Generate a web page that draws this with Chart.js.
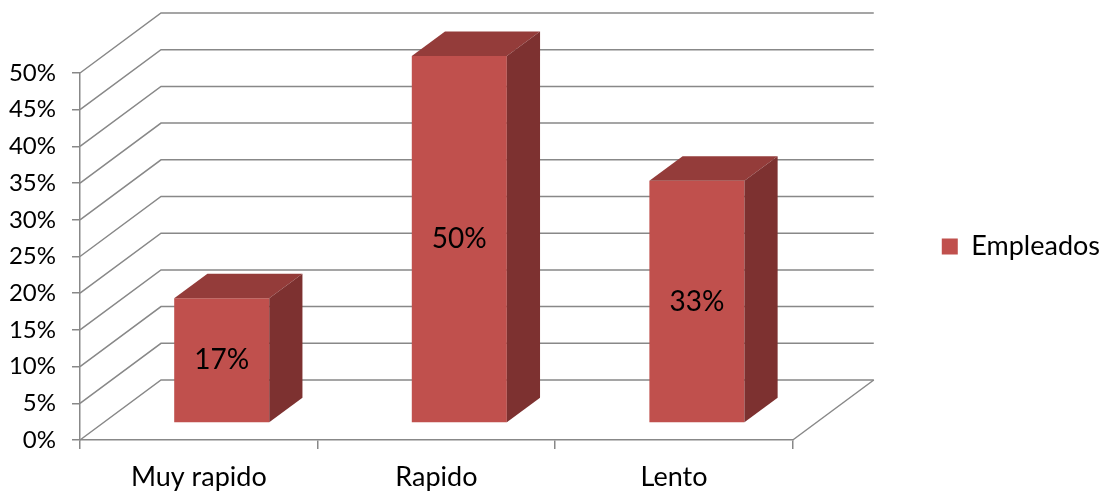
<!DOCTYPE html>
<html>
<head>
<meta charset="utf-8">
<script src="https://cdn.jsdelivr.net/npm/chart.js@4"></script>
<style>
  html, body { margin: 0; padding: 0; background: #fff; }
  #wrap { width: 1110px; height: 493px; }
</style>
</head>
<body>
<div id="wrap"><canvas id="speedChart"></canvas></div>
<script>
// Respuestas por categoria
const categories = ['Muy rapido', 'Rapido', 'Lento'];
const empleados = [17, 50, 33];
const seriesName = 'Empleados';
const yMin = 0;
const yMax = 50;
const yStep = 5;

const gridColor = '#888888';
const faceColor = '#c0504d';
const topColor = '#943c3a';
const sideColor = '#7d3130';

// depth of the back wall and where the bars sit inside it
const wall = { dx: 81, dy: -60 };
const barFront = 0.283;
const barDepth = 0.41;

const tickFont = { family: 'Lato', size: 24 };
const textFont = { family: 'Lato', size: 27 };
const valueFont = { family: 'Lato', size: 28 };

const depthPlugin = {
    id: 'depth',
    beforeDatasetsDraw(chart) {
        const { ctx, chartArea } = chart;
        const y = chart.scales.y;
        ctx.save();
        ctx.strokeStyle = gridColor;
        ctx.lineWidth = 1.5;

        // side wall diagonals + back wall lines
        for (let v = yMin; v <= yMax; v += yStep) {
            const py = y.getPixelForValue(v);
            ctx.beginPath();
            ctx.moveTo(chartArea.left, py);
            ctx.lineTo(chartArea.left + wall.dx, py + wall.dy);
            ctx.lineTo(chartArea.right + wall.dx, py + wall.dy);
            ctx.stroke();
        }

        // right edge of the floor
        const base = y.getPixelForValue(yMin);
        ctx.beginPath();
        ctx.moveTo(chartArea.right + wall.dx, base + wall.dy);
        ctx.lineTo(chartArea.right, base);
        ctx.stroke();
        ctx.restore();

        // bars are drawn a bit into the box
        ctx.save();
        ctx.translate(wall.dx * barFront, wall.dy * barFront);
    },
    afterDatasetsDraw(chart) {
        const { ctx } = chart;
        const ddx = wall.dx * barDepth;
        const ddy = wall.dy * barDepth;
        const meta = chart.getDatasetMeta(0);

        meta.data.forEach((bar, i) => {
            const { x, y, base, width } = bar.getProps(['x', 'y', 'base', 'width'], true);
            const x0 = x - width / 2;
            const x1 = x + width / 2;

            // top face
            ctx.fillStyle = topColor;
            ctx.beginPath();
            ctx.moveTo(x0, y);
            ctx.lineTo(x0 + ddx, y + ddy);
            ctx.lineTo(x1 + ddx, y + ddy);
            ctx.lineTo(x1, y);
            ctx.closePath();
            ctx.fill();

            // side face
            ctx.fillStyle = sideColor;
            ctx.beginPath();
            ctx.moveTo(x1, y);
            ctx.lineTo(x1 + ddx, y + ddy);
            ctx.lineTo(x1 + ddx, base + ddy);
            ctx.lineTo(x1, base);
            ctx.closePath();
            ctx.fill();

            // value label
            ctx.fillStyle = '#000';
            ctx.font = `${valueFont.size}px ${valueFont.family}`;
            ctx.textAlign = 'center';
            ctx.textBaseline = 'middle';
            ctx.fillText(empleados[i] + '%', x, (y + base) / 2);
        });

        ctx.restore();
    }
};

// empty axes that only reserve space around the plot
const spacer = (axis, position, size) => ({
    type: 'category',
    axis: axis,
    position: position,
    grid: { display: false },
    ticks: { display: false },
    border: { display: false },
    afterFit(scale) {
        if (axis === 'x') scale.height = size;
        else scale.width = size;
    }
});

new Chart(document.getElementById('speedChart'), {
    type: 'bar',
    data: {
        labels: categories,
        datasets: [{
            label: seriesName,
            data: empleados,
            backgroundColor: faceColor,
            borderWidth: 0,
            categoryPercentage: 1,
            barPercentage: 0.4,
            clip: false
        }]
    },
    options: {
        responsive: true,
        maintainAspectRatio: false,
        animation: false,
        layout: {
            padding: 0
        },
        scales: {
            x: {
                grid: {
                    drawOnChartArea: false,
                    color: gridColor,
                    lineWidth: 1.5,
                    tickLength: 9
                },
                border: { color: gridColor, width: 1.5 },
                ticks: { color: '#000', font: textFont, padding: 12 },
                afterFit(scale) { scale.height = 53; }
            },
            y: {
                min: yMin,
                max: yMax,
                ticks: {
                    stepSize: yStep,
                    color: '#000',
                    font: tickFont,
                    padding: 16,
                    callback: v => v + '%'
                },
                grid: {
                    drawOnChartArea: false,
                    color: gridColor,
                    lineWidth: 1.5,
                    tickLength: 8
                },
                border: { color: gridColor, width: 1.5 },
                afterFit(scale) { scale.width = 80; }
            },
            // room above the plot and between the plot and the legend
            roomTop: spacer('x', 'top', 73),
            roomRight: spacer('y', 'right', 139)
        },
        plugins: {
            legend: {
                position: 'right',
                labels: {
                    color: '#000',
                    font: textFont,
                    boxWidth: 16,
                    boxHeight: 16,
                    padding: 10
                }
            },
            tooltip: { enabled: false }
        }
    },
    plugins: [depthPlugin]
});
</script>
</body>
</html>
